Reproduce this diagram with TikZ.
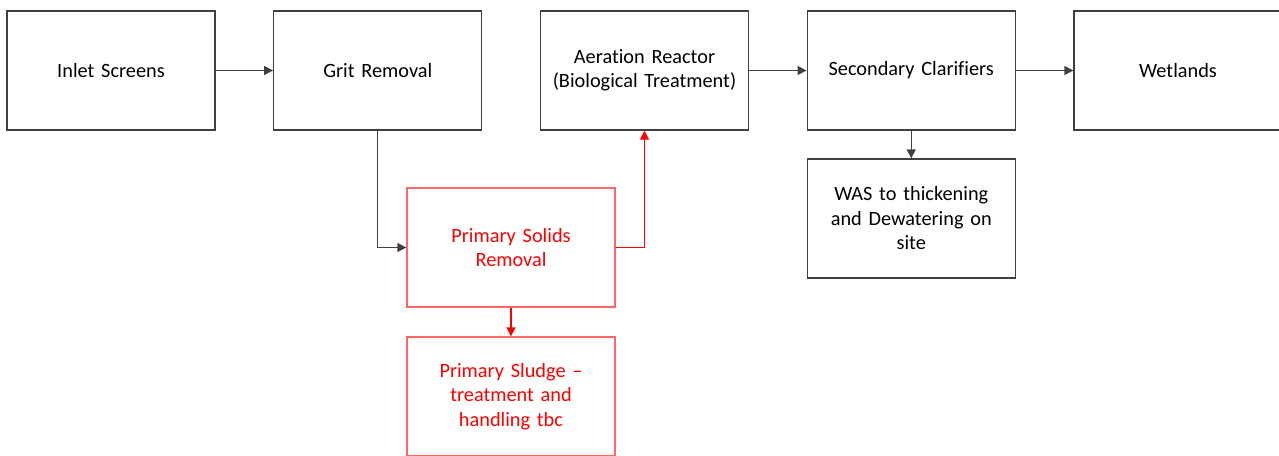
\documentclass[tikz,border=0pt]{standalone}
\usepackage{fontspec}
\setmainfont{Carlito}[Ligatures=NoCommon]
\usepackage{xcolor}
\definecolor{BoxGrey}{HTML}{404040}
\definecolor{SludgeRed}{HTML}{FF6666}
\definecolor{FlowRed}{HTML}{FF0000}
\usetikzlibrary{positioning,arrows.meta}

\begin{document}
\begin{tikzpicture}[
    x=1pt, y=-1pt,
    node distance=57pt and 57.35pt,
    box/.style={
      rectangle, draw=BoxGrey, line width=1.4pt,
      minimum width=208pt, minimum height=119pt,
      text width=196pt, align=center,
      font=\fontsize{20.3}{24.5}\selectfont
    },
    redbox/.style={box, draw=SludgeRed, text=FlowRed},
    arr/.style={-{Triangle[length=9pt,width=9pt]}, line width=1.4pt, BoxGrey},
    redarr/.style={arr, FlowRed}
  ]
    \useasboundingbox (0,0) rectangle (1279,455);

    % main treatment train
    \node[box] (inlet) at (111,70.5) {Inlet Screens};
    \node[box, right=of inlet] (grit) {Grit Removal};
    \node[box, right=of grit] (aer) {Aeration Reactor\\(Biological Treatment)};
    \node[box, right=of aer] (clar) {Secondary Clarifiers};
    \node[box, right=of clar] (wet) {Wetlands};

    % side streams
    \node[redbox] (psr) at (511,247.5) {Primary Solids\\Removal};
    \node[redbox, below=28.6pt of psr] (sludge) {Primary Sludge --\\treatment and\\handling tbc};
    \node[box, below=27.6pt of clar] (was) {WAS to thickening\\and Dewatering on\\site};

    \draw[arr] (inlet) -- (grit);
    \draw[arr] (aer) -- (clar);
    \draw[arr] (clar) -- (wet);
    \draw[arr] (clar) -- (was);
    \draw[arr] (grit.south) |- (psr.west);

    \draw[redarr] (psr.east) -| (aer.south);
    \draw[redarr] (psr) -- (sludge);
  \end{tikzpicture}
\end{document}
